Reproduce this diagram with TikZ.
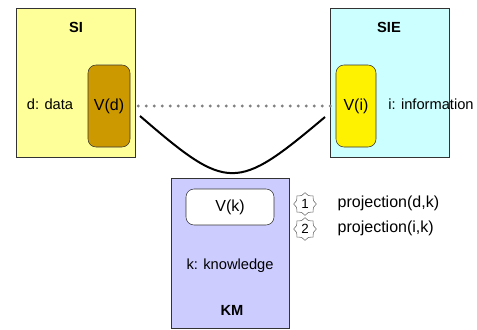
\documentclass[tikz,border=0pt]{standalone}
\usepackage{fontspec}
\setmainfont{Liberation Sans}
\usetikzlibrary{shapes.geometric}

\definecolor{siyellow}{HTML}{FFFF99}
\definecolor{siecyan}{HTML}{CCFFFF}
\definecolor{kmblue}{HTML}{CCCCFF}
\definecolor{vdgold}{HTML}{CC9900}

\begin{document}
\begin{tikzpicture}[x=0.75pt,y=-0.75pt,
    space/.style={rectangle, draw=black!80, minimum width=89.25pt, minimum height=111.75pt},
    view/.style={rectangle, rounded corners=6pt, draw=black!80, font=\fontsize{12}{14}\selectfont},
    lbl/.style={font=\fontsize{11}{13}\selectfont},
    ttl/.style={font=\fontsize{11}{13}\selectfont\bfseries},
    burst/.style={star, star points=8, star point ratio=1.25, minimum size=17pt, draw=black!60,
        inner sep=0.5pt, font=\fontsize{10}{12}\selectfont}]
    \useasboundingbox (0,0) rectangle (477,329);

    % the three spaces
    \node[space, fill=siyellow] (si) at (75.5,82.5) {};
    \node[space, fill=siecyan] (sie) at (389.5,82.5) {};
    \node[space, fill=kmblue, minimum width=88.5pt, minimum height=112.5pt] (km) at (230,253) {};

    % views
    \node[view, fill=vdgold, minimum width=31.5pt, minimum height=61.5pt] (vd) at (109,106) {V(d)};
    \node[view, fill=yellow, minimum width=30pt, minimum height=61.5pt] (vi) at (356,106) {V(i)};
    \node[view, fill=white, minimum width=66pt, minimum height=27pt] (vk) at (230,207) {V(k)};

    % labels
    \node[ttl] (tsi) at (76,27) {SI};
    \node[ttl] (tsie) at (389,27) {SIE};
    \node[ttl] (tkm) at (232,310) {KM};
    \node[lbl] (ld) at (50,104) {d: data};
    \node[lbl, anchor=west, inner sep=0pt] (li) at (388,104) {i: information};
    \node[lbl] (lk) at (230,266) {k: knowledge};

    % links
    \draw[gray, line width=2.3pt, line cap=round, dash pattern=on 0pt off 6pt]
        ([xshift=6pt]vd.east) -- ([xshift=-3pt]vi.west);
    \coordinate (cs) at (140,116);
    \coordinate (ce) at (325,117);
    \draw[line width=1.5pt] (cs) .. controls (228,192) and (236,192) .. (ce);

    % legend
    \node[burst] (n1) at (305,204) {1};
    \node[burst] (n2) at (305,229) {2};
    \node[anchor=west, font=\fontsize{12}{14}\selectfont] (p1) at (333,203) {projection(d,k)};
    \node[anchor=west, font=\fontsize{12}{14}\selectfont] (p2) at (333,228) {projection(i,k)};
\end{tikzpicture}
\end{document}
